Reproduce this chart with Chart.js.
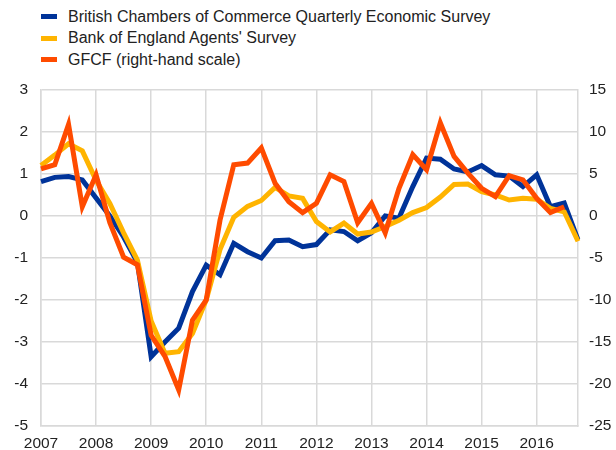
<!DOCTYPE html>
<html lang="en">

<head>
    <meta charset="UTF-8">
    <title>Investment indicators</title>
    <script src="https://cdn.jsdelivr.net/npm/chart.js"></script>
    <style>
        body {
            margin: 0;
            background: #fff;
            font-family: "Liberation Sans", Arial, sans-serif;
        }

        .box {
            position: relative;
            width: 616px;
            height: 450px;
        }

        .legenda {
            position: absolute;
            left: 41px;
            top: 6px;
        }

        .item {
            height: 21.5px;
            display: flex;
            align-items: center;
            font-size: 16px;
            color: #222;
        }

        .item span {
            display: inline-block;
            width: 16px;
            height: 5px;
            margin-right: 11px;
        }

        canvas {
            position: absolute;
            left: 0;
            top: 0;
        }
    </style>
</head>

<body>
    <div class="box">
        <div class="legenda" id="legenda"></div>
        <canvas id="myChart" width="616" height="450"></canvas>
    </div>
</body>

</html>

<script>
    // trimestres 2007Q1 .. 2016Q4
    var anos = ['2007', '2008', '2009', '2010', '2011', '2012', '2013', '2014', '2015', '2016'];
    var trimestres = [];
    for (var a = 0; a < anos.length; a++) {
        for (var q = 1; q <= 4; q++) {
            trimestres.push(anos[a] + 'Q' + q);
        }
    }

    var nomes = ['British Chambers of Commerce Quarterly Economic Survey', "Bank of England Agents' Survey", 'GFCF (right-hand scale)'];
    var cores = ['#003399', '#FFB400', '#FF4B00'];

    // left scale
    var bcc = [0.82, 0.92, 0.94, 0.86, 0.43, 0.0, -0.5, -1.1,
        -3.35, -3.0, -2.67, -1.8, -1.17, -1.4, -0.65, -0.85,
        -1.0, -0.59, -0.57, -0.73, -0.68, -0.33, -0.37, -0.59,
        -0.4, 0.0, -0.05, 0.7, 1.38, 1.35, 1.12, 1.05,
        1.2, 0.98, 0.95, 0.7, 0.98, 0.22, 0.31, -0.57];
    var boe = [1.2, 1.45, 1.72, 1.55, 0.85, 0.3, -0.4, -1.05,
        -2.5, -3.27, -3.23, -2.8, -2.0, -0.8, -0.03, 0.23,
        0.37, 0.68, 0.48, 0.42, -0.13, -0.38, -0.17, -0.43,
        -0.38, -0.25, -0.1, 0.08, 0.2, 0.45, 0.75, 0.76,
        0.58, 0.5, 0.38, 0.42, 0.4, 0.18, 0.1, -0.6];
    // right scale
    var gfcf = [5.6, 6.1, 10.9, 1.1, 4.9, -0.8, -4.9, -5.8,
        -14.2, -16.7, -20.7, -12.4, -10.0, -0.5, 6.1, 6.3,
        8.1, 3.9, 1.7, 0.4, 1.5, 4.9, 4.1, -0.8,
        1.5, -2.0, 3.3, 7.3, 5.5, 11.1, 7.1, 5.1,
        3.3, 2.3, 4.8, 4.3, 2.1, 0.4, 1.1, null];

    var fonte = { family: '"Liberation Sans", Arial, sans-serif', size: 15.5 };

    // legenda em html
    var html = '';
    for (var i = 0; i < nomes.length; i++) {
        html += '<div class="item"><span style="background:' + cores[i] + '"></span>' + nomes[i] + '</div>';
    }
    legenda.innerHTML = html;

    const ctx = document.getElementById('myChart');

    new Chart(ctx, {
        type: 'line',
        data: {
            labels: trimestres,
            datasets: [{
                label: nomes[0],
                data: bcc,
                borderColor: cores[0],
                yAxisID: 'y',
                order: 3
            },
            {
                label: nomes[1],
                data: boe,
                borderColor: cores[1],
                yAxisID: 'y',
                order: 2
            },
            {
                label: nomes[2],
                data: gfcf,
                borderColor: cores[2],
                yAxisID: 'y2',
                order: 1
            }]
        },
        options: {
            responsive: false,
            animation: false,
            layout: { padding: { top: 90 } },
            elements: {
                point: { radius: 0 },
                line: { borderWidth: 5, tension: 0, fill: false }
            },
            plugins: {
                legend: { display: false },
                tooltip: { enabled: false }
            },
            scales: {
                x: {
                    offset: false,
                    afterFit: function (s) { s.height = 24; },
                    grid: {
                        drawTicks: false,
                        color: function (c) { return c.index % 4 === 0 ? '#d9d9d9' : 'rgba(0,0,0,0)'; },
                        lineWidth: 1.5
                    },
                    border: { color: '#d9d9d9', width: 1.5 },
                    ticks: {
                        autoSkip: false,
                        maxRotation: 0,
                        padding: 8,
                        color: '#222',
                        font: fonte,
                        callback: function (v, i) { return i % 4 === 0 ? trimestres[i].slice(0, 4) : ''; }
                    }
                },
                y: {
                    position: 'left',
                    min: -5,
                    max: 3,
                    afterFit: function (s) { s.width = 41; },
                    grid: { drawTicks: false, color: '#d9d9d9', lineWidth: 1.5 },
                    border: { color: '#d9d9d9', width: 1.5 },
                    ticks: { stepSize: 1, padding: 13, color: '#222', font: fonte }
                },
                y2: {
                    position: 'right',
                    min: -25,
                    max: 15,
                    afterFit: function (s) { s.width = 38; },
                    grid: { display: false, drawTicks: false },
                    border: { color: '#d9d9d9', width: 1.5 },
                    ticks: { stepSize: 5, padding: 11, color: '#222', font: fonte }
                }
            }
        }
    });
</script>
